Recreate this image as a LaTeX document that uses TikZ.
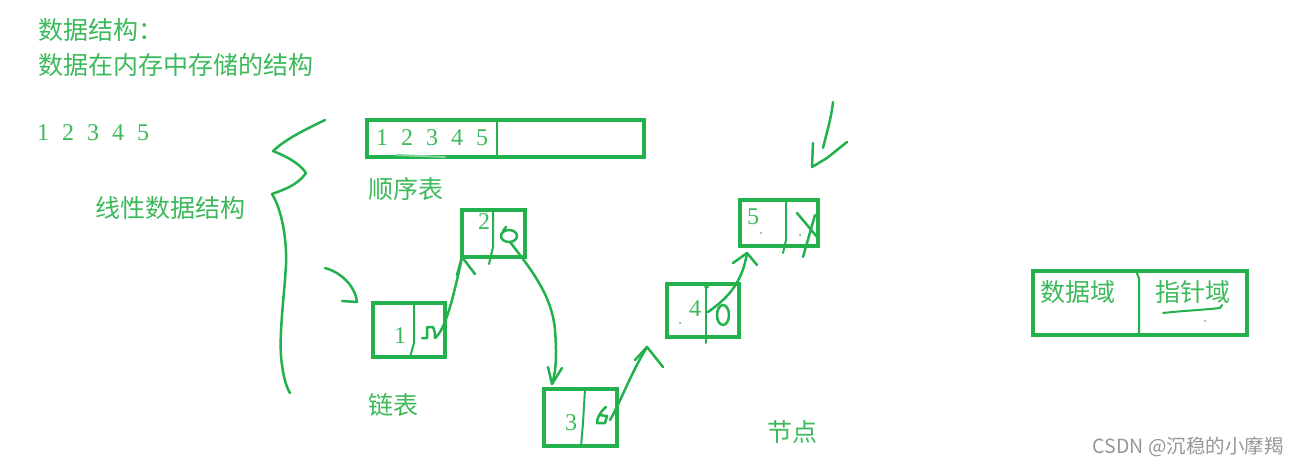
\documentclass[tikz,border=0pt]{standalone}
\usepackage{fontspec}
\setmainfont{Liberation Serif}
\newfontfamily\cjk{Noto Sans CJK SC}
\usetikzlibrary{positioning,calc}

\definecolor{pen}{RGB}{34,177,76}
\definecolor{ink}{RGB}{60,185,90}
\definecolor{grey}{RGB}{150,150,150}
\newcommand\onetofive{1\hspace{13pt}2\hspace{13pt}3\hspace{13pt}4\hspace{13pt}5}

\begin{document}
\begin{tikzpicture}[x=1pt,y=-1pt,
    box/.style={draw=pen,line width=4pt,inner sep=0pt,outer sep=0pt},
    stroke/.style={draw=pen,line width=2.5pt,line cap=round,line join=round},
    hint/.style={draw=pen!55,line width=2pt,line cap=round},
    word/.style={text=ink,font=\cjk\fontsize{25}{30}\selectfont,inner sep=0pt},
    digit/.style={text=ink,font=\fontsize{24}{28}\selectfont,inner sep=0pt}]

    \useasboundingbox (0,0) rectangle (1298,466);

    % ---------------------------------------------------------
    % Titel links oben
    % ---------------------------------------------------------
    \node[word,anchor=west] (title) at (38,30) {数据结构：};
    \node[word,anchor=west] (defn) at (38,65) {数据在内存中存储的结构};
    \node[digit,anchor=west] (seq) at (37,133) {\onetofive};
    \node[word,anchor=west] (linear) at (95,208) {线性数据结构};

    % geschweifte Klammer (von Hand)
    \draw[stroke] (325,120) .. controls (300,132) and (285,140) .. (273,151)
        .. controls (288,157) and (300,164) .. (306,173)
        .. controls (298,185) and (283,190) .. (272,194)
        .. controls (282,210) and (287,240) .. (286,265)
        .. controls (284,300) and (278,340) .. (282,365)
        .. controls (284,380) and (287,388) .. (290,393);

    % ---------------------------------------------------------
    % Sequenzliste
    % ---------------------------------------------------------
    \node[box,minimum width=277pt,minimum height=37pt] (arr) at (505.5,138.5) {};
    \draw[stroke,line width=2pt] (497,121) -- (497,156);
    \node[digit,anchor=west] (arrseq) at (376,138) {\onetofive};
    \draw[hint] (397,155) -- (445,157);
    \node[word,anchor=west] (arrname) at (368,189) {顺序表};

    % ---------------------------------------------------------
    % verkettete Liste: Knoten 1..5
    % ---------------------------------------------------------
    \node[box,minimum width=72pt,minimum height=54pt] (n1) at (409,330) {};
    \node[box,minimum width=63pt,minimum height=47pt] (n2) at (493.5,233.5) {};
    \node[box,minimum width=73pt,minimum height=57pt] (n3) at (580.5,417.5) {};
    \node[box,minimum width=72pt,minimum height=53pt] (n4) at (703,310.5) {};
    \node[box,minimum width=78pt,minimum height=46pt] (n5) at (779,223) {};

    % Trennlinien (von Hand)
    \draw[stroke,line width=2pt] (414,303) -- (414,343) -- (410,357);
    \draw[stroke,line width=2pt] (493,210) -- (493,247) -- (489,264);
    \draw[stroke,line width=2pt] (585,389) -- (583,423) -- (581,446);
    \draw[stroke,line width=2pt] (705,287) -- (708,287) (706,287) -- (706,343);
    \draw[stroke,line width=2pt] (786,200) -- (786,240) -- (783,253);

    % Daten
    \node[digit] (d1) at (400,336) {1};
    \node[digit] (d2) at (484,222) {2};
    \node[digit] (d3) at (571,423) {3};
    \node[digit] (d4) at (695,309) {4};
    \node[digit] (d5) at (753,217) {5};
    \fill[ink] (680,323) circle (1pt) (761,233) circle (1pt) (800,235) circle (1pt);

    % Zeiger
    \draw[stroke] (422,338) -- (427,338) -- (427,327) -- (433,327)
        .. controls (435,331) and (435,335) .. (435,338);
    \coordinate (p1) at (435,338);
    \draw[stroke] (509,236) ellipse [x radius=8, y radius=6];
    \draw[stroke] (503,231) -- (506,227);
    \coordinate (p2) at (510,242);
    \draw[stroke] (606,407) .. controls (600,412) and (597,418) .. (597,423)
        -- (605,423) -- (607,416) -- (599,415);
    \coordinate (p3) at (610,420);
    \draw[stroke] (723,315) ellipse [x radius=6, y radius=10];
    \coordinate (p4) at (708,312);
    \draw[stroke] (797,213) -- (817,237) (815,215) -- (803,257);

    \coordinate (t3) at ($(n4.south west)+(-20,10)$);

    % Pfeile zwischen den Knoten
    \draw[stroke] (p1) .. controls (445,330) and (453,300) .. (n2.south west);
    \draw[stroke] ($(n2.south west)+(-5,18)$) -- (n2.south west) -- ++(13,17);

    \draw[stroke] (p2) .. controls (530,268) and (552,295) .. (555,330)
        .. controls (557,355) and (556,372) .. ($(n3.north west)+(8,-5)$);
    \draw[stroke] ($(n3.north west)+(4,-22)$) -- ($(n3.north west)+(8,-5)$) -- ($(n3.north west)+(18,-21)$);

    \draw[stroke] (p3) .. controls (620,403) and (630,375) .. (t3);
    \draw[stroke] ($(t3)+(-12,13)$) -- (t3) -- ++(16,20);

    \draw[stroke] (p4) .. controls (725,300) and (742,285) .. ($(n5.south west)+(7,7)$);
    \draw[stroke] ($(n5.south west)+(-7,17)$) -- ($(n5.south west)+(7,7)$) -- ++(10,12);

    % Pfeil auf Knoten 1
    \coordinate (in1) at (325,268);
    \draw[stroke] (in1) .. controls (340,272) and (355,285) .. ($(n1.north west)+(-16,-1)$) -- ++(-15,-1);

    % Pfeil rechts oben
    \coordinate (top) at (833,102);
    \draw[stroke] (top) .. controls (831,120) and (826,135) .. (823,148);
    \draw[stroke] (813,143) -- (812,167) -- (827,158) -- (847,142);

    \node[word,anchor=west] (listname) at (368,405) {链表};
    \node[word,anchor=west] (nodename) at (767,432) {节点};

    % ---------------------------------------------------------
    % Aufbau eines Knotens
    % ---------------------------------------------------------
    \node[box,minimum width=214pt,minimum height=64pt] (field) at (1140,303) {};
    \draw[stroke,line width=2pt] (1136,271) -- (1139,278) -- (1139,335);
    \node[word,anchor=west] (datafield) at (1040,292) {数据域};
    \node[word,anchor=west] (ptrfield) at (1155,292) {指针域};
    \draw[stroke,line width=2pt] (1163,313) .. controls (1180,311) and (1202,310) .. (1220,308) -- (1222,305);
    \fill[ink] (1205,321) circle (1pt);

    \node[anchor=east,text=grey,font=\cjk\fontsize{19.5}{22}\selectfont,inner sep=0pt] (wm) at (1284,447) {CSDN @沉稳的小摩羯};
\end{tikzpicture}
\end{document}
